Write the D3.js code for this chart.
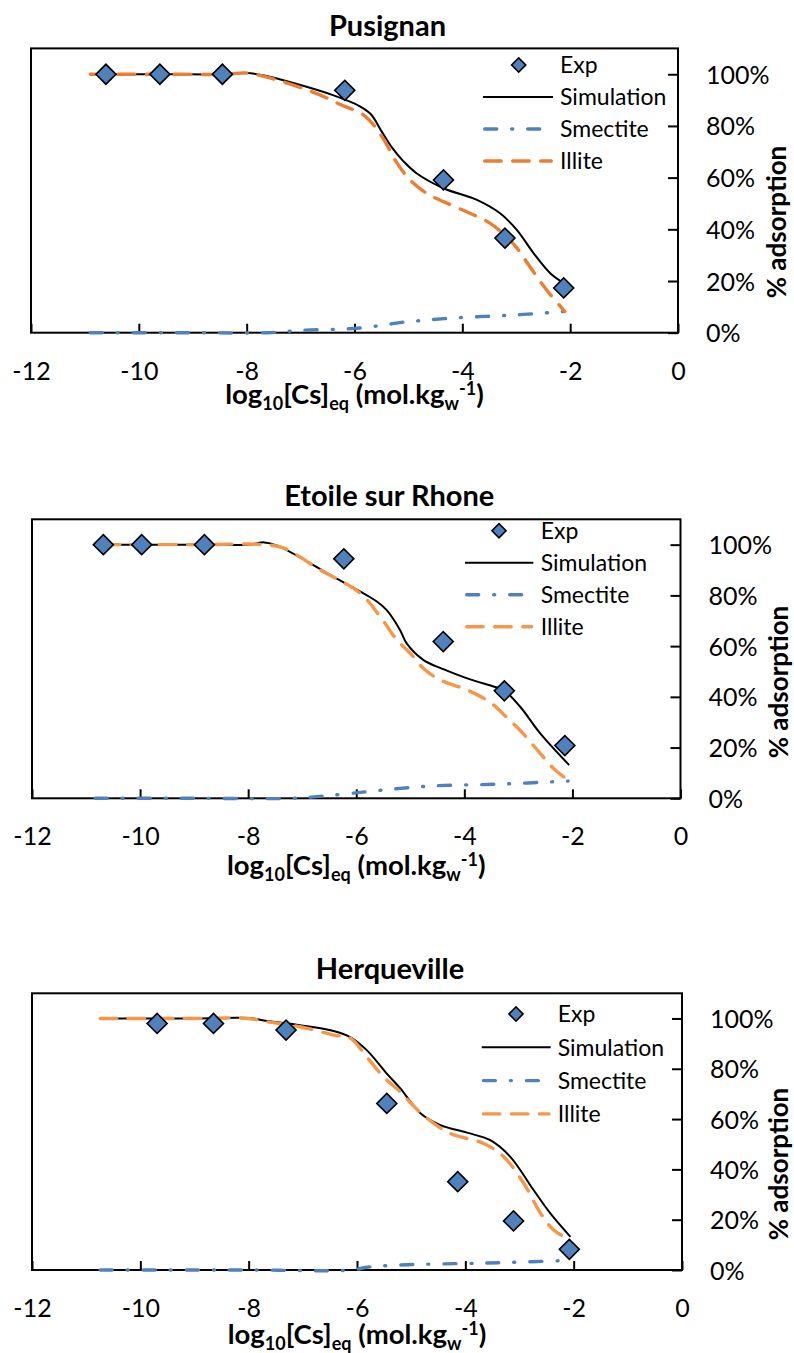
<!DOCTYPE html>
<html><head><meta charset="utf-8">
<script src="https://cdn.jsdelivr.net/npm/d3@7"></script>
<style>
body{margin:0;background:#fff}
svg{display:block}
text{font-family:Lato,"Open Sans",sans-serif;fill:#000}
</style>
</head><body>
<svg id="chart" width="794" height="1353"></svg>
<script>
// ---------- data ----------
const xTicks = [-12, -10, -8, -6, -4, -2, 0];
const yTicks = [0, 20, 40, 60, 80, 100];
const seriesNames = ["Exp", "Simulation", "Smectite", "Illite"];
const panelTitles = ["Pusignan", "Etoile sur Rhone", "Herqueville"];

// Pusignan  [log10 Cs, % adsorption]
const pusignanExp = [[-10.61,100],[-9.61,100],[-8.45,100],[-6.18,93.8],[-4.35,59.1],[-3.21,36.6],[-2.12,17.3]];
const pusignanSim = [[-10.9,100],[-9.5,100],[-8.4,100],[-8.0,100.5],[-7.7,99.6],[-7.1,96.4],[-6.4,91.9],[-5.9,87.6],[-5.7,84.6],[-5.5,78],[-5.3,71.5],[-5.1,66.5],[-4.85,61.7],[-4.35,55.9],[-3.73,51.4],[-3.3,46.2],[-2.99,39.8],[-2.68,30.8],[-2.37,23],[-2.12,19.2]];
const pusignanSmec = [[-10.9,0],[-9,0],[-7.6,0],[-7.0,0.9],[-5.9,1.8],[-5.16,3.9],[-4.97,4.3],[-4.23,5.6],[-3.0,6.9],[-2.12,8.2]];
const pusignanIll = [[-10.9,100],[-9.5,100],[-8.4,100],[-8.0,100.5],[-7.42,97.7],[-6.7,92.5],[-6.23,88.0],[-5.85,84.5],[-5.65,80.5],[-5.45,74.5],[-5.21,65.6],[-4.97,59.1],[-4.66,53.9],[-4.35,50.7],[-3.92,46.8],[-3.49,42.4],[-3.06,34.6],[-2.75,25.6],[-2.44,16.6],[-2.1,8.2]];

// Etoile sur Rhone
const etoileExp = [[-10.68,100],[-9.97,100],[-8.81,100],[-6.23,94.4],[-4.39,61.8],[-3.26,42.4],[-2.14,20.8]];
const etoileSim = [[-10.68,100],[-9,100],[-8.0,100],[-7.7,100.9],[-7.47,99.7],[-6.42,87.3],[-5.62,77.6],[-5.44,74.3],[-5.19,66.4],[-5.07,61.2],[-4.76,54.6],[-4.39,50.9],[-3.96,47.4],[-3.46,44.1],[-3.28,42.8],[-2.97,36.2],[-2.6,25.7],[-2.06,13.1]];
const etoileSmec = [[-10.83,0],[-9,0],[-7.2,0],[-6.6,0.9],[-5.81,2.6],[-5.19,3.9],[-4.57,4.9],[-3.34,5.6],[-2.08,6.8]];
const etoileIll = [[-10.68,100],[-9,100],[-7.69,100],[-7.35,98.7],[-6.67,90.1],[-5.93,80.9],[-5.56,71.7],[-5.25,62.5],[-5.0,57.2],[-4.76,51.3],[-4.45,46.7],[-3.96,42.8],[-3.54,38.1],[-3.23,32.2],[-2.92,25.7],[-2.6,17.8],[-2.35,11.8],[-2.05,6.6]];

// Herqueville
const herqExp = [[-9.69,98],[-8.65,98],[-7.31,95.4],[-5.45,66.2],[-4.14,35.1],[-3.11,19.5],[-2.08,8.2]];
const herqSim = [[-10.74,100],[-9,100],[-8.0,100.2],[-7.66,99],[-7.05,97.3],[-6.43,95],[-6.12,92.5],[-5.82,87.4],[-5.45,78.1],[-5.2,72.2],[-4.83,62.3],[-4.46,57.6],[-3.97,54.6],[-3.54,51.6],[-3.17,45],[-2.74,31.8],[-2.43,22.5],[-2.06,13.2]];
const herqSmec = [[-10.74,0],[-8,0],[-6.1,0],[-5.82,1.1],[-5.2,2],[-3.97,2.6],[-3.34,2.9],[-2.1,3.8]];
const herqIll = [[-10.74,100],[-9,100],[-8.0,100],[-7.66,98.7],[-7.05,96.7],[-6.43,93.4],[-6.12,92.1],[-5.82,84.7],[-5.51,76.8],[-5.2,70.8],[-5.0,66.2],[-4.74,60.9],[-4.28,54.3],[-3.66,50.3],[-3.29,45],[-2.92,34.4],[-2.61,22.5],[-2.37,15.9],[-2.1,12.4]];

// ---------- layout ----------
const panels = [
  {title: panelTitles[0], exp: pusignanExp, sim: pusignanSim, smec: pusignanSmec, ill: pusignanIll,
   left: 31, right: 678, top: 48.4, bottom: 332.7, titleY: 36, xTitleY: 404, yTitleX: 786, yTitleY: 222,
   legY: 65, legDy: 32, legX1: 483, legX2: 553, legText: 560, legDia: 518.7, orange: "#ED7D31"},
  {title: panelTitles[1], exp: etoileExp, sim: etoileSim, smec: etoileSmec, ill: etoileIll,
   left: 32, right: 680.5, top: 519.3, bottom: 798.3, titleY: 506, xTitleY: 875, yTitleX: 788, yTitleY: 682,
   legY: 530.7, legDy: 32, legX1: 465, legX2: 533.3, legText: 540.7, legDia: 499, orange: "#F79646"},
  {title: panelTitles[2], exp: herqExp, sim: herqSim, smec: herqSmec, ill: herqIll,
   left: 32, right: 682, top: 993.3, bottom: 1270, titleY: 979.3, xTitleY: 1343.5, yTitleX: 788, yTitleY: 1164,
   legY: 1014, legDy: 33.3, legX1: 481.7, legX2: 550.7, legText: 557.7, legDia: 516, orange: "#F79646"}
];

const BLUE = "#4F81BD";
const svg = d3.select("#chart");

panels.forEach(p => {
  const g = svg.append("g");
  const x = d3.scaleLinear().domain([-12, 0]).range([p.left, p.right]);
  const y = d3.scaleLinear().domain([0, 110]).range([p.bottom, p.top]);

  // frame
  g.append("rect").attr("x", p.left).attr("y", p.top)
    .attr("width", p.right - p.left).attr("height", p.bottom - p.top)
    .attr("fill", "none").attr("stroke", "#000").attr("stroke-width", 2);

  // x axis
  const xa = g.append("g").attr("transform", `translate(0,${p.bottom})`)
    .call(d3.axisBottom(x).tickValues(xTicks).tickSize(-9).tickSizeOuter(0).tickFormat(d => d === 0 ? "0" : "-" + Math.abs(d)));
  xa.select(".domain").remove();
  xa.selectAll(".tick line").attr("stroke", "#000").attr("stroke-width", 2);
  xa.selectAll(".tick text").attr("y", 47).attr("dy", null)
    .style("font-size", "25px").style("font-family", "Lato, sans-serif").attr("fill", "#000");

  // y axis (right)
  const ya = g.append("g").attr("transform", `translate(${p.right},0)`)
    .call(d3.axisRight(y).tickValues(yTicks).tickSize(-10).tickSizeOuter(0).tickFormat(d => d + "%"));
  ya.select(".domain").remove();
  ya.selectAll(".tick line").attr("stroke", "#000").attr("stroke-width", 2);
  ya.selectAll(".tick text").attr("x", 28).attr("dy", "0.36em")
    .style("font-size", "25px").style("font-family", "Lato, sans-serif").attr("fill", "#000");

  // title
  g.append("text").attr("x", (p.left + p.right) / 2 + 33).attr("y", p.titleY)
    .attr("text-anchor", "middle").style("font-size", "29px").style("font-weight", "bold").text(p.title);

  // x title
  const xt = g.append("text").attr("x", (p.left + p.right) / 2).attr("y", p.xTitleY)
    .attr("text-anchor", "middle").style("font-size", "27.5px").style("font-weight", "bold");
  xt.append("tspan").text("log");
  xt.append("tspan").attr("dy", 6).style("font-size", "18px").text("10");
  xt.append("tspan").attr("dy", -6).text("[Cs]");
  xt.append("tspan").attr("dy", 6).style("font-size", "18px").text("eq");
  xt.append("tspan").attr("dy", -6).text(" (mol.kg");
  xt.append("tspan").attr("dy", 6).style("font-size", "18px").text("w");
  xt.append("tspan").attr("dy", -15).style("font-size", "18px").text("-1");
  xt.append("tspan").attr("dy", 9).text(")");

  // y title
  g.append("text").attr("transform", `translate(${p.yTitleX},${p.yTitleY}) rotate(-90)`)
    .attr("text-anchor", "middle").style("font-size", "26px").style("font-weight", "bold").text("% adsorption");

  const line = d3.line().x(d => x(d[0])).y(d => y(d[1])).curve(d3.curveCatmullRom.alpha(0.5));

  const styles = {
    sim: {stroke: "#000", w: 2, dash: null, cap: "butt"},
    smec: {stroke: BLUE, w: 3.4, dash: "12,15,1,15", cap: "round"},
    ill: {stroke: p.orange, w: 3.4, dash: "16.5,11.5", cap: "round"}
  };

  ["sim", "smec", "ill"].forEach(k => {
    const s = styles[k];
    g.append("path").datum(p[k]).attr("d", line).attr("fill", "none")
      .attr("stroke", s.stroke).attr("stroke-width", s.w)
      .attr("stroke-dasharray", s.dash).attr("stroke-linecap", s.cap).attr("stroke-linejoin", "round");
  });

  // experimental diamonds
  const dia = d3.symbol().type(d3.symbolSquare).size(200);
  g.selectAll("path.exp").data(p.exp).join("path").attr("class", "exp")
    .attr("d", dia).attr("transform", d => `translate(${x(d[0])},${y(d[1])}) rotate(45)`)
    .attr("fill", BLUE).attr("stroke", "#000").attr("stroke-width", 1.6);

  // legend
  const lg = g.append("g");
  seriesNames.forEach((name, i) => {
    const ly = p.legY + i * p.legDy;
    if (i === 0) {
      lg.append("path").attr("d", d3.symbol().type(d3.symbolSquare).size(100))
        .attr("transform", `translate(${p.legDia},${ly}) rotate(45)`)
        .attr("fill", BLUE).attr("stroke", "#000").attr("stroke-width", 1.6);
    } else {
      const s = styles[["sim", "smec", "ill"][i - 1]];
      const lx1 = s.cap === "round" ? p.legX1 + s.w / 2 : p.legX1;
      const lx2 = s.cap === "round" ? p.legX2 - s.w / 2 : p.legX2;
      lg.append("line").attr("x1", lx1).attr("x2", lx2).attr("y1", ly).attr("y2", ly)
        .attr("stroke", s.stroke).attr("stroke-width", s.w)
        .attr("stroke-dasharray", s.dash).attr("stroke-linecap", s.cap);
    }
    lg.append("text").attr("x", p.legText).attr("y", ly).attr("dy", "0.36em")
      .style("font-size", "23px").text(name);
  });
});
</script>
</body></html>
